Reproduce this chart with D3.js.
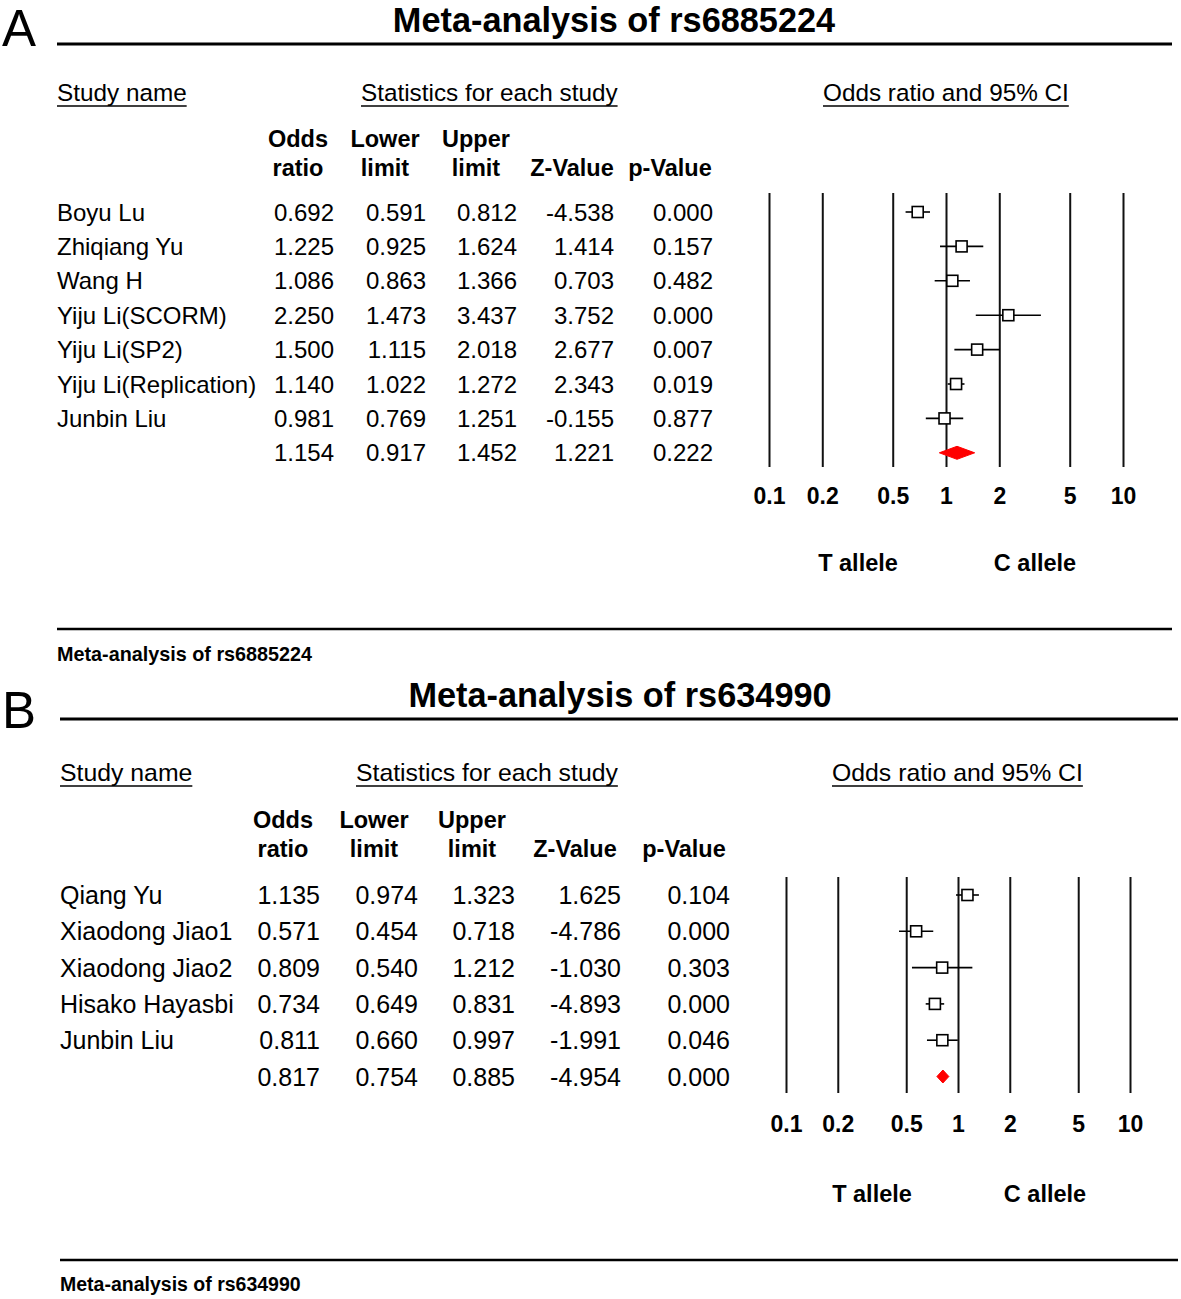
<!DOCTYPE html>
<html>
<head>
<meta charset="utf-8">
<script src="https://cdn.jsdelivr.net/npm/d3@7"></script>
<style>
  html, body { margin: 0; padding: 0; background: #fff; }
  svg { display: block; font-family: "Liberation Sans", Arial, Helvetica, sans-serif; }
</style>
</head>
<body>
<svg id="chart" width="1181" height="1299"></svg>
<script>
// ---------------- DATA ----------------
// Panel A: rs6885224
const studiesA = ["Boyu Lu", "Zhiqiang Yu", "Wang H", "Yiju Li(SCORM)", "Yiju Li(SP2)", "Yiju Li(Replication)", "Junbin Liu", ""];
const oddsA  = [0.692, 1.225, 1.086, 2.250, 1.500, 1.140, 0.981, 1.154];
const lowerA = [0.591, 0.925, 0.863, 1.473, 1.115, 1.022, 0.769, 0.917];
const upperA = [0.812, 1.624, 1.366, 3.437, 2.018, 1.272, 1.251, 1.452];
const zA     = [-4.538, 1.414, 0.703, 3.752, 2.677, 2.343, -0.155, 1.221];
const pA     = [0.000, 0.157, 0.482, 0.000, 0.007, 0.019, 0.877, 0.222];

// Panel B: rs634990
const studiesB = ["Qiang Yu", "Xiaodong Jiao1", "Xiaodong Jiao2", "Hisako Hayasbi", "Junbin Liu", ""];
const oddsB  = [1.135, 0.571, 0.809, 0.734, 0.811, 0.817];
const lowerB = [0.974, 0.454, 0.540, 0.649, 0.660, 0.754];
const upperB = [1.323, 0.718, 1.212, 0.831, 0.997, 0.885];
const zB     = [1.625, -4.786, -1.030, -4.893, -1.991, -4.954];
const pB     = [0.104, 0.000, 0.303, 0.000, 0.046, 0.000];

const tickValues = [0.1, 0.2, 0.5, 1, 2, 5, 10];
const tickLabels = ["0.1", "0.2", "0.5", "1", "2", "5", "10"];
const headerTop = ["Odds", "Lower", "Upper", "", ""];
const headerBottom = ["ratio", "limit", "limit", "Z-Value", "p-Value"];
const alleleLabels = ["T allele", "C allele"];

// ---------------- DRAW ----------------
const svg = d3.select("#chart");
svg.append("rect").attr("width", 1181).attr("height", 1299).attr("fill", "#fff");

function drawPanel(cfg, d) {
  const g = svg.append("g");
  const ink = "#000";

  // Panel letter
  g.append("text").attr("x", cfg.letterX).attr("y", cfg.letterY)
    .attr("font-size", 51).attr("fill", ink).text(cfg.letter);

  // Title
  g.append("text").attr("x", cfg.titleX).attr("y", cfg.titleY)
    .attr("text-anchor", "middle").attr("font-size", 34.3).attr("font-weight", "bold")
    .attr("fill", ink).text(cfg.title);
  g.append("line").attr("x1", cfg.ruleX1).attr("x2", cfg.ruleX2)
    .attr("y1", cfg.ruleY).attr("y2", cfg.ruleY).attr("stroke", ink).attr("stroke-width", 3);

  // Underlined section headings
  cfg.sections.forEach(s => {
    const t = g.append("text").attr("x", s.x).attr("y", cfg.secY)
      .attr("font-size", cfg.secSize).attr("fill", ink).text(s.label);
    const w = t.node().getComputedTextLength();
    g.append("line").attr("x1", s.x).attr("x2", s.x + w)
      .attr("y1", cfg.secY + 5).attr("y2", cfg.secY + 5)
      .attr("stroke", ink).attr("stroke-width", 1.5);
  });

  // Column headers
  headerTop.forEach((h, i) => {
    g.append("text").attr("x", cfg.headCenters[i]).attr("y", cfg.headY1)
      .attr("text-anchor", "middle").attr("font-size", 23.5).attr("font-weight", "bold")
      .attr("fill", ink).text(h);
  });
  headerBottom.forEach((h, i) => {
    g.append("text").attr("x", cfg.headCenters[i]).attr("y", cfg.headY2)
      .attr("text-anchor", "middle").attr("font-size", 23.5).attr("font-weight", "bold")
      .attr("fill", ink).text(h);
  });

  // Row scale
  const n = d.studies.length;
  const y = d3.scalePoint().domain(d3.range(n))
    .range([cfg.rowY0, cfg.rowY0 + cfg.rowStep * (n - 1)]);

  // Table rows
  const cols = [d.odds, d.lower, d.upper, d.z, d.p];
  d.studies.forEach((s, i) => {
    g.append("text").attr("x", cfg.nameX).attr("y", y(i)).attr("dy", "0.36em")
      .attr("font-size", cfg.rowSize).attr("fill", ink).text(s);
    cols.forEach((col, j) => {
      g.append("text").attr("x", cfg.valRight[j]).attr("y", y(i)).attr("dy", "0.36em")
        .attr("text-anchor", "end").attr("font-size", cfg.rowSize).attr("fill", ink)
        .text(col[i].toFixed(3));
    });
  });

  // Forest plot
  const x = d3.scaleLog().domain([0.1, 10]).range([cfg.fx0, cfg.fx1]);
  const axis = d3.axisBottom(x).tickValues(tickValues)
    .tickFormat((v, i) => tickLabels[i])
    .tickSize(-(cfg.lineBottom - cfg.lineTop)).tickPadding(0);
  const ax = g.append("g").attr("transform", `translate(0,${cfg.lineBottom})`).call(axis);
  ax.select(".domain").remove();
  ax.selectAll(".tick line").attr("stroke", "#111").attr("stroke-width", 2);
  ax.selectAll(".tick text").attr("y", cfg.tickBaseline - cfg.lineBottom).attr("dy", 0)
    .attr("font-size", 23).attr("font-weight", "bold").attr("fill", ink)
    .attr("font-family", "\"Liberation Sans\", Arial, sans-serif");

  const studyIdx = d3.range(n - 1);
  // CI lines
  g.selectAll(null).data(studyIdx).enter().append("line")
    .attr("x1", i => x(d.lower[i])).attr("x2", i => x(d.upper[i]))
    .attr("y1", i => y(i)).attr("y2", i => y(i))
    .attr("stroke", ink).attr("stroke-width", 1.6);
  // Squares
  const sq = 11;
  g.selectAll(null).data(studyIdx).enter().append("rect")
    .attr("x", i => x(d.odds[i]) - sq / 2).attr("y", i => y(i) - sq / 2)
    .attr("width", sq).attr("height", sq)
    .attr("fill", "#fff").attr("stroke", ink).attr("stroke-width", 1.6);
  // Summary diamond
  const k = n - 1, hh = 6.5;
  g.append("path")
    .attr("d", `M${x(d.lower[k])},${y(k)} L${x(d.odds[k])},${y(k) - hh} L${x(d.upper[k])},${y(k)} L${x(d.odds[k])},${y(k) + hh} Z`)
    .attr("fill", "#ff0000").attr("stroke", "#ff0000").attr("stroke-width", 1);

  // Allele labels
  alleleLabels.forEach((a, i) => {
    g.append("text").attr("x", cfg.alleleX[i]).attr("y", cfg.alleleY)
      .attr("text-anchor", "middle").attr("font-size", 23.5).attr("font-weight", "bold")
      .attr("fill", ink).text(a);
  });

  // Footer
  g.append("line").attr("x1", cfg.ruleX1).attr("x2", cfg.ruleX2)
    .attr("y1", cfg.footLineY).attr("y2", cfg.footLineY).attr("stroke", ink).attr("stroke-width", 2.5);
  g.append("text").attr("x", cfg.ruleX1).attr("y", cfg.footTextY)
    .attr("font-size", cfg.footSize).attr("font-weight", "bold").attr("fill", ink).text(cfg.title);
}

drawPanel({
  letter: "A", letterX: 2, letterY: 46,
  title: "Meta-analysis of rs6885224", titleX: 614, titleY: 31.5,
  ruleX1: 57, ruleX2: 1172, ruleY: 44,
  sections: [{label: "Study name", x: 57}, {label: "Statistics for each study", x: 361}, {label: "Odds ratio and 95% CI", x: 823}],
  secY: 101, secSize: 24.3,
  headCenters: [298, 385, 476, 572, 670], headY1: 147, headY2: 176,
  rowY0: 212, rowStep: 34.4, nameX: 57, rowSize: 24,
  valRight: [334, 426, 517, 614, 713],
  fx0: 769, fx1: 1123, lineTop: 193, lineBottom: 467, tickBaseline: 504,
  alleleX: [858, 1035], alleleY: 571,
  footLineY: 629, footTextY: 661, footSize: 19.8
}, {studies: studiesA, odds: oddsA, lower: lowerA, upper: upperA, z: zA, p: pA});

drawPanel({
  letter: "B", letterX: 2, letterY: 728,
  title: "Meta-analysis of rs634990", titleX: 620, titleY: 707,
  ruleX1: 60, ruleX2: 1178, ruleY: 719,
  sections: [{label: "Study name", x: 60}, {label: "Statistics for each study", x: 356}, {label: "Odds ratio and 95% CI", x: 832}],
  secY: 781, secSize: 24.8,
  headCenters: [283, 374, 472, 575, 684], headY1: 828, headY2: 857,
  rowY0: 895, rowStep: 36.3, nameX: 60, rowSize: 25,
  valRight: [320, 418, 515, 621, 730],
  fx0: 786, fx1: 1130, lineTop: 877, lineBottom: 1093, tickBaseline: 1132,
  alleleX: [872, 1045], alleleY: 1202,
  footLineY: 1260, footTextY: 1291, footSize: 19.5
}, {studies: studiesB, odds: oddsB, lower: lowerB, upper: upperB, z: zB, p: pB});
</script>
</body>
</html>
